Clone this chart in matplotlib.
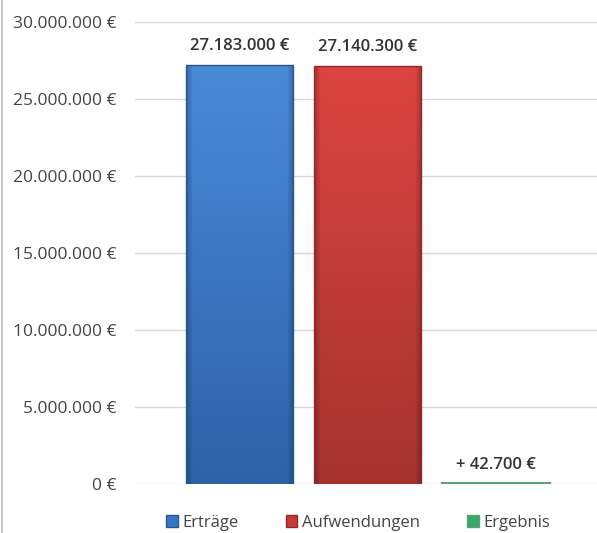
import numpy as np
import matplotlib.pyplot as plt
from matplotlib.colors import to_rgb
from matplotlib.lines import Line2D
from matplotlib.patches import Patch

series = ["Erträge", "Aufwendungen", "Ergebnis"]
values = [27183000, 27140300, 42700]
labels = ["27.183.000 €", "27.140.300 €", "+ 42.700 €"]
top_colors = ["#4a8ad8", "#dc4541", "#5cc489"]
bottom_colors = ["#2e62a8", "#a63230", "#2f9a5a"]
edge_colors = ["#2a558f", "#8e2b28", "#55a47a"]
legend_colors = ["#3a75c4", "#c83a36", "#3aa866"]
yticks = [0, 5000000, 10000000, 15000000, 20000000, 25000000, 30000000]


def euro(v):
    return "{:,.0f} €".format(v).replace(",", ".")


def bar_image(top, bot):
    # vertical colour ramp with darker left/right rims (bevel look)
    t = np.linspace(1, 0, 200).reshape(-1, 1, 1)
    top = np.array(to_rgb(top)).reshape(1, 1, 3)
    bot = np.array(to_rgb(bot)).reshape(1, 1, 3)
    img = bot + (top - bot) * t
    u = np.linspace(0, 1, 120)
    rim = 1 - 0.25 * np.clip(1 - np.minimum(u, 1 - u) / 0.06, 0, 1)
    img = img * rim.reshape(1, -1, 1)
    return np.clip(img, 0, 1)


plt.rcParams["font.family"] = ["Open Sans", "DejaVu Sans"]

fig = plt.figure(figsize=(5.97, 5.33), dpi=100)
ax = fig.add_axes([0.226, 0.092, 0.774, 0.867])

x = np.arange(len(series))
width = 0.836
bars = ax.bar(x, values, width=width, color="none", edgecolor="none", zorder=3)

for b, top, bot, ec in zip(bars, top_colors, bottom_colors, edge_colors):
    x0, y0 = b.get_x(), b.get_y()
    w, h = b.get_width(), b.get_height()
    im = ax.imshow(bar_image(top, bot), aspect="auto", extent=[x0, x0 + w, y0, y0 + h],
                   zorder=3, interpolation="bilinear")
    im.set_clip_path(b)
    lw = 2.2 if h < 1000000 else 1.0
    ax.bar(x0 + w / 2, h, width=w, color="none", edgecolor=ec, linewidth=lw, zorder=4)

for xi, v, lab in zip(x, values, labels):
    ax.text(xi, v + 700000, lab, ha="center", va="bottom", fontsize=12,
            fontweight="semibold", color="#333333")

ax.set_xlim(-0.82, 2.79)
ax.set_ylim(0, 30000000)
ax.set_yticks(yticks)
ax.set_yticklabels([euro(t) for t in yticks], fontsize=12.5, color="#444444")
ax.set_xticks([])
ax.tick_params(axis="y", length=0, pad=13)
ax.grid(axis="y", color="#d9d9d9", linewidth=1, zorder=0)
for s in ax.spines.values():
    s.set_visible(False)

handles = [Patch(facecolor=c, edgecolor=e) for c, e in zip(legend_colors, edge_colors)]
fig.legend(handles, series, loc="lower center", bbox_to_anchor=(0.6, -0.024), ncol=3,
           frameon=False, fontsize=12, handlelength=0.7, handleheight=0.7,
           handletextpad=0.3, columnspacing=2.8, labelcolor="#444444")

fig.add_artist(Line2D([0.003, 0.003], [0, 1], color="#c8c8c8", linewidth=1.5))

fig.savefig("out.png", dpi=100)
